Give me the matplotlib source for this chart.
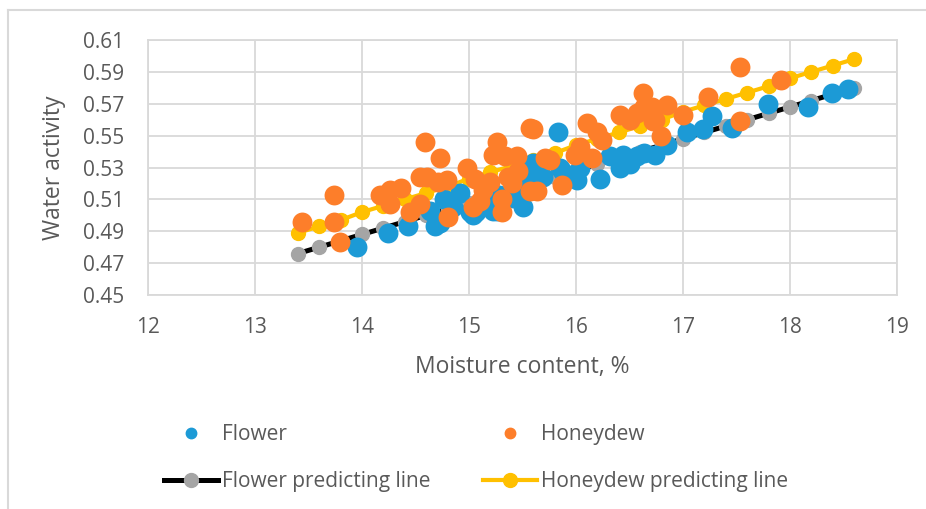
import matplotlib
matplotlib.use("Agg")
import matplotlib.pyplot as plt
from matplotlib.lines import Line2D

plt.rcParams['font.family'] = ['Open Sans', 'DejaVu Sans']

# Scatter data
flower_x = [13.95, 14.24, 14.43, 14.64, 14.68, 14.73, 14.77, 14.85, 14.92, 15.01,
            15.04, 15.07, 15.17, 15.22, 15.26, 15.28, 15.41, 15.46, 15.50, 15.57,
            15.60, 15.60, 15.66, 15.69, 15.83, 15.85, 15.88, 16.01, 16.04, 16.22,
            16.32, 16.41, 16.44, 16.50, 16.57, 16.64, 16.74, 16.85, 17.04, 17.19,
            17.27, 17.46, 17.79, 18.17, 18.39, 18.54]
flower_y = [0.480, 0.489, 0.493, 0.503, 0.493, 0.495, 0.510, 0.505, 0.514, 0.502,
            0.500, 0.502, 0.508, 0.503, 0.503, 0.513, 0.511, 0.517, 0.505, 0.522,
            0.516, 0.533, 0.525, 0.524, 0.552, 0.530, 0.527, 0.522, 0.530, 0.523,
            0.537, 0.530, 0.538, 0.532, 0.537, 0.539, 0.538, 0.544, 0.552, 0.554,
            0.562, 0.555, 0.570, 0.568, 0.577, 0.579]

honey_x = [13.44, 13.74, 13.74, 13.79, 14.17, 14.26, 14.36, 14.26, 14.45, 14.54,
           14.59, 14.61, 14.73, 14.71, 14.79, 14.80, 14.54, 14.98, 15.06, 15.13,
           15.04, 15.20, 15.26, 15.22, 15.34, 15.45, 15.46, 15.36, 15.31, 15.31,
           15.57, 15.60, 15.57, 15.64, 15.71, 15.76, 15.87, 15.99, 16.04, 16.10,
           16.20, 16.15, 16.24, 16.41, 16.50, 16.57, 16.64, 16.63, 16.72, 16.71,
           16.85, 16.74, 16.79, 17.00, 17.23, 17.53, 17.53, 17.92, 15.10, 15.40]
honey_y = [0.496, 0.513, 0.496, 0.483, 0.513, 0.516, 0.517, 0.507, 0.502, 0.507,
           0.546, 0.524, 0.536, 0.521, 0.522, 0.499, 0.524, 0.530, 0.523, 0.516,
           0.505, 0.521, 0.546, 0.538, 0.537, 0.537, 0.528, 0.524, 0.510, 0.502,
           0.555, 0.554, 0.515, 0.515, 0.536, 0.535, 0.519, 0.538, 0.543, 0.558,
           0.552, 0.536, 0.547, 0.563, 0.560, 0.564, 0.568, 0.577, 0.559, 0.568,
           0.569, 0.560, 0.550, 0.563, 0.574, 0.593, 0.559, 0.585, 0.509, 0.520]

# Predicting lines
pred_x = [13.4, 13.6, 13.8, 14.0, 14.2, 14.4, 14.6, 14.8, 15.0, 15.2, 15.4, 15.6,
          15.8, 16.0, 16.2, 16.4, 16.6, 16.8, 17.0, 17.2, 17.4, 17.6, 17.8, 18.0,
          18.2, 18.4, 18.6]
flower_pred = [0.476, 0.480, 0.484, 0.488, 0.492, 0.496, 0.500, 0.504, 0.508,
               0.512, 0.516, 0.520, 0.524, 0.528, 0.532, 0.536, 0.540, 0.544,
               0.548, 0.552, 0.556, 0.560, 0.564, 0.568, 0.572, 0.576, 0.580]
honey_pred = [0.489, 0.493, 0.497, 0.502, 0.506, 0.510, 0.514, 0.518, 0.523,
              0.527, 0.531, 0.535, 0.539, 0.544, 0.548, 0.552, 0.556, 0.560,
              0.565, 0.569, 0.573, 0.577, 0.581, 0.586, 0.590, 0.594, 0.598]

xticks = [12, 13, 14, 15, 16, 17, 18, 19]
yticks = [0.45, 0.47, 0.49, 0.51, 0.53, 0.55, 0.57, 0.59, 0.61]

BLUE = '#1C9AD6'
ORANGE = '#FD7E2A'
YELLOW = '#FFC000'
GRAY = '#A5A5A5'
GRID = '#D9D9D9'
TEXT = '#595959'

W, H = 926, 509
fig = plt.figure(figsize=(W / 100, H / 100), dpi=100)
ax = fig.add_axes([148 / W, 1 - 295 / H, (897 - 148) / W, (295 - 40) / H])

fl_line, = ax.plot(pred_x, flower_pred, color='black', lw=3.6, marker='o',
                   ms=10, mfc=GRAY, mec=GRAY, zorder=2,
                   label='Flower predicting line')
hd_line, = ax.plot(pred_x, honey_pred, color=YELLOW, lw=3.0, marker='o',
                   ms=10, mfc=YELLOW, mec=YELLOW, zorder=2,
                   label='Honeydew predicting line')
fl_sc = ax.scatter(flower_x, flower_y, s=205, color=BLUE, lw=0, zorder=3,
                   label='Flower')
hd_sc = ax.scatter(honey_x, honey_y, s=205, color=ORANGE, lw=0, zorder=4,
                   label='Honeydew')

ax.set_xlim(12, 19)
ax.set_ylim(0.45, 0.61)
ax.set_xticks(xticks)
ax.set_yticks(yticks)
ax.set_yticklabels(['{:.2f}'.format(v) for v in yticks])
ax.grid(True, color=GRID, lw=1.3)
ax.set_axisbelow(True)
for s in ax.spines.values():
    s.set_color(GRID)
    s.set_linewidth(1.3)
ax.tick_params(length=0, labelsize=15, colors=TEXT)
ax.tick_params(axis='y', pad=17)
ax.tick_params(axis='x', pad=16)
ax.set_xlabel('Moisture content, %', fontsize=16.5, color=TEXT, labelpad=12)
ax.set_ylabel('Water activity', fontsize=16.5, color=TEXT, labelpad=12)

# Legend in two columns under the plot
leg_handles = [
    Line2D([], [], ls='none', marker='o', ms=7.5, color=BLUE),
    fl_line,
    Line2D([], [], ls='none', marker='o', ms=7.5, color=ORANGE),
    hd_line,
]
leg_labels = ['Flower', 'Flower predicting line', 'Honeydew',
              'Honeydew predicting line']
leg = fig.legend(leg_handles, leg_labels, ncol=2, loc='upper left',
                 bbox_to_anchor=(164 / W, 1 - 424 / H), frameon=False,
                 fontsize=15, handlelength=2.6, handletextpad=0.2,
                 columnspacing=2.5, labelspacing=1.25, borderpad=0,
                 borderaxespad=0)
for t in leg.get_texts():
    t.set_color(TEXT)

# chart area frame (only top and left edges show in the crop)
fig.add_artist(Line2D([8 / W, 1], [1 - 10 / H, 1 - 10 / H], color=GRID, lw=1.5))
fig.add_artist(Line2D([8 / W, 8 / W], [0, 1 - 10 / H], color=GRID, lw=1.5))

fig.savefig('out.png', dpi=100)
